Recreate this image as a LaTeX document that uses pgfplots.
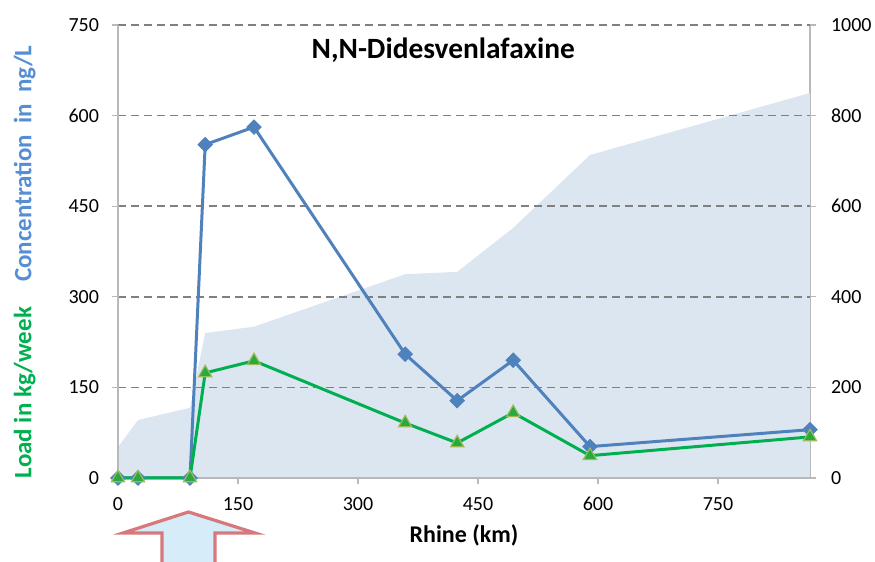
\documentclass[border=0pt]{standalone}
\usepackage{pgfplots}
\pgfplotsset{compat=1.18}
\usepackage{fontspec}
\setmainfont{Carlito}
\definecolor{cblue}{RGB}{79,129,189}
\definecolor{lblue}{RGB}{85,142,213}
\definecolor{cgreen}{RGB}{0,176,80}
\definecolor{tgreen}{RGB}{40,170,60}
\definecolor{tedge}{RGB}{155,187,89}
\definecolor{areac}{RGB}{220,230,241}
\definecolor{gridc}{RGB}{128,128,128}
\definecolor{axc}{RGB}{185,185,185}
\definecolor{arrowc}{RGB}{215,120,125}
\definecolor{arrowf}{RGB}{214,236,248}
\pgfplotstableread{
x y
0 68
25 128
90 155
109 320
170 334
359 450
424 455
494 552
590 713
865 850
}\areadata
\pgfplotstableread{
x y
0 0
25 0
90 0
109 552
170 581
359 205
424 128
494 195
590 52
865 80
}\concdata
\pgfplotstableread{
x y
0 0
25 0
90 0
109 174
170 194
359 91
424 58
494 108
590 37
865 68
}\loaddata
\begin{document}
\begin{tikzpicture}
\useasboundingbox (0,0) rectangle (437.5pt,281pt);
\pgfplotsset{
  base/.style={
    at={(59pt,42pt)}, anchor=south west,
    scale only axis, width=346pt, height=226.5pt,
    xmin=0, xmax=865,
    /pgf/number format/assume math mode=true,
    /pgf/number format/1000 sep={},
    tick label style={font=\fontsize{10}{11}\selectfont},
    tick align=outside, major tick length=3pt,
    every tick/.style={axc, line width=0.6pt},
    axis line style={axc, line width=0.8pt},
    clip=false,
  }
}
\begin{axis}[base,
  ymin=0, ymax=1000,
  axis y line*=right, axis x line=none,
  ytick={0,200,...,1000},
  yticklabel style={xshift=4pt},
]
\addplot[fill=areac, draw=none] table[x=x,y=y] {\areadata} \closedcycle;
\end{axis}
\begin{axis}[base,
  ymin=0, ymax=750,
  axis y line*=left, axis x line*=bottom,
  xtick={0,150,...,750}, ytick={0,150,...,750},
  yticklabel style={xshift=-3pt},
  xticklabel style={yshift=-3pt},
  ymajorgrids,
  grid style={gridc, dashed, dash pattern=on 4pt off 2.5pt, line width=0.75pt},
  xlabel={\textbf{Rhine (km)}},
  xlabel style={at={(axis description cs:0.5,-0.126)}, anchor=center, font=\fontsize{12}{14}\selectfont},
  ylabel={\textbf{\textcolor{cgreen}{Load in kg/week}\hspace{1em}\textcolor{lblue}{Concentration\hspace{0.45em}in\hspace{0.45em}ng/L}}},
  ylabel style={at={(axis description cs:-0.135,0.477)}, anchor=center, font=\fontsize{12.5}{14}\selectfont},
]
\addplot[cblue, line width=1.5pt, mark=square*, mark size=2.6pt,
  mark options={rotate=45, fill=cblue, draw=cblue, line width=0.3pt}] table[x=x,y=y] {\concdata};
\addplot[cgreen, line width=1.5pt, mark=triangle*, mark size=3.8pt,
  mark options={fill=tgreen, draw=tedge, line width=0.6pt}] table[x=x,y=y] {\loaddata};
\node[font=\bfseries\fontsize{14.7}{17}\selectfont] at (axis description cs:0.47,0.945) {N,N-Didesvenlafaxine};
\end{axis}
\begin{scope}[shift={(0pt,281pt)}, x=0.5pt, y=-0.5pt]
\clip (0,0) rectangle (875,562);
\draw[arrowc, line width=1.6pt, fill=arrowf, line join=miter]
  (188.5,512) -- (255,533) -- (215,533) -- (215,570) -- (162,570) -- (162,533) -- (123,533) -- cycle;
\end{scope}
\end{tikzpicture}
\end{document}
